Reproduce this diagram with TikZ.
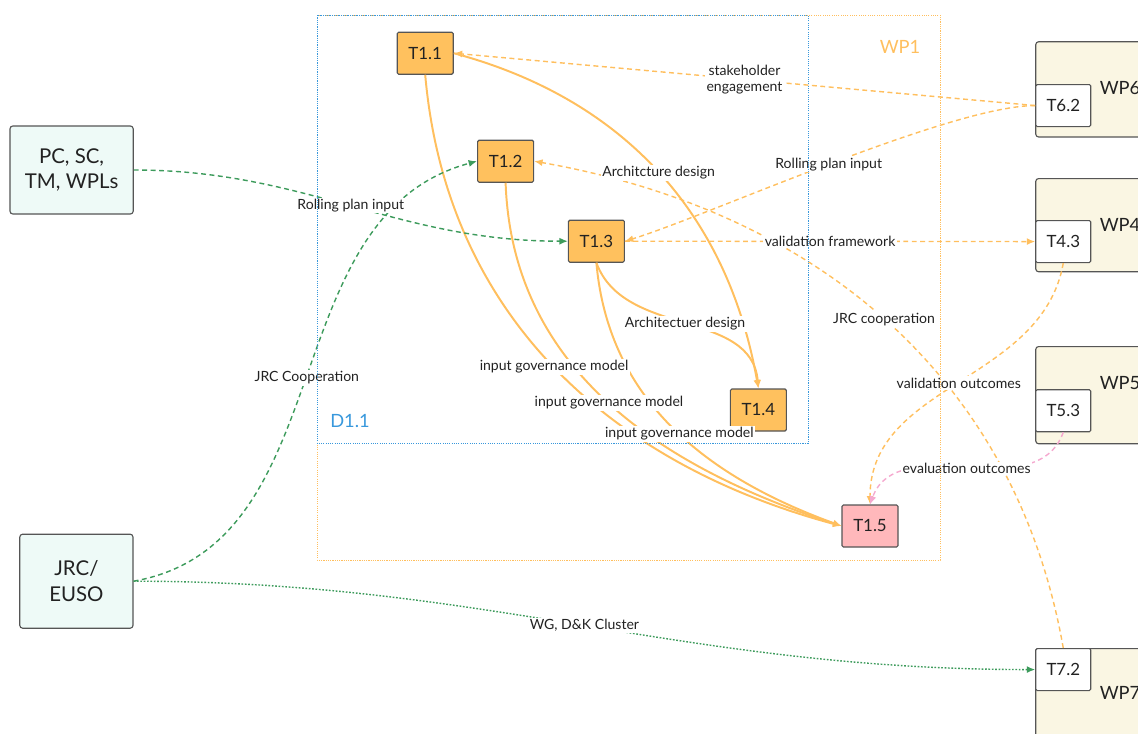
\documentclass[tikz,border=0pt]{standalone}
\usepackage{fontspec}
\setmainfont{Lato}
\usetikzlibrary{arrows.meta}
\definecolor{taskorange}{HTML}{FFC15E}
\definecolor{taskpink}{HTML}{FFB8BB}
\definecolor{lineorange}{HTML}{FFBF5E}
\definecolor{linepink}{HTML}{F5A9CF}
\definecolor{linegreen}{HTML}{3D9B5C}
\definecolor{frameblue}{HTML}{3898DC}
\definecolor{partymint}{HTML}{EEFAF7}
\definecolor{wpcream}{HTML}{FAF6E3}
\definecolor{boxgray}{HTML}{555555}
\definecolor{textgray}{HTML}{222222}
\begin{document}
\begin{tikzpicture}[>={Latex[length=6pt,width=5pt]},
	task/.style={draw=boxgray,line width=0.8pt,fill=taskorange,rounded corners=1pt,minimum width=1.4cm,minimum height=1.05cm,inner sep=0pt,text=textgray,font=\fontsize{12}{14}\selectfont},
	wptask/.style={task,fill=white,anchor=north west,minimum width=1.375cm},
	wpbox/.style={draw=boxgray,line width=0.8pt,fill=wpcream,rounded corners=2pt,anchor=north west,minimum width=3.5cm,inner sep=0pt},
	party/.style={draw=boxgray,line width=0.8pt,fill=partymint,rounded corners=2pt,align=center,text=textgray,font=\fontsize{14.5}{18}\selectfont},
	flow/.style={->,draw=lineorange,line width=1.4pt},
	link/.style={->,draw=lineorange,line width=1pt,dash pattern=on 3.5pt off 2.5pt},
	greenlink/.style={link,draw=linegreen},
	lbl/.style={fill=white,inner sep=1pt,text=textgray,font=\fontsize{10}{11.5}\selectfont},
	wplbl/.style={text=textgray,font=\fontsize{13}{15}\selectfont}]
	\useasboundingbox (0,0) rectangle (28.45,-18.33);
	\clip (0,0) rectangle (28.45,-18.33);
	%Tasks WP1
	\node[task] (t11) at (10.63,-1.33) {T1.1};
	\node[task] (t12) at (12.64,-4.03) {T1.2};
	\node[task] (t13) at (14.91,-6.03) {T1.3};
	\node[task] (t14) at (18.96,-10.25) {T1.4};
	\node[task,fill=taskpink] (t15) at (21.75,-13.15) {T1.5};
	%Partners
	\node[party,minimum width=3.08cm,minimum height=2.2cm] (pc) at (1.79,-4.25) {PC, SC,\\TM, WPLs};
	\node[party,minimum width=2.83cm,minimum height=2.35cm] (jrc) at (1.91,-14.53) {JRC/\\EUSO};
	%Other WPs
	\node[wpbox,minimum height=2.38cm] (wp6) at (25.88,-1.03) {};
	\node[wptask] (t62) at (25.88,-2.1) {T6.2};
	\node[wplbl] at (28.0,-2.2) {WP6};
	\node[wpbox,minimum height=2.33cm] (wp4) at (25.88,-4.45) {};
	\node[wptask] (t43) at (25.88,-5.5) {T4.3};
	\node[wplbl] at (28.0,-5.63) {WP4};
	\node[wpbox,minimum height=2.43cm] (wp5) at (25.88,-8.65) {};
	\node[wptask] (t53) at (25.88,-9.73) {T5.3};
	\node[wplbl] at (28.0,-9.58) {WP5};
	\node[wpbox,minimum height=3cm] (wp7) at (25.88,-16.2) {};
	\node[wptask] (t72) at (25.88,-16.2) {T7.2};
	\node[wplbl] at (28.0,-17.33) {WP7};
	%Input governance model
	\draw[flow] (t11.south) to[out=-85,in=165] coordinate[pos=.5] (g1) (t15.west);
	\draw[flow] (t12.south) to[out=-88,in=162] coordinate[pos=.5] (g2) (t15.west);
	\draw[flow] (t13.south) to[out=-85,in=160] coordinate[pos=.52] (g3) (t15.west);
	%Architecture design
	\draw[flow] (t11.east) to[out=-15,in=100] coordinate[pos=.5] (a1) (t14.north);
	\draw[flow] (t13.south) to[out=-70,in=95] coordinate[pos=.5] (a2) (t14.north);
	%Links to other WPs
	\draw[link] (t72.north) to[out=100,in=-10] coordinate[pos=.5] (jc) (t12.east);
	\draw[link] (t62.west) -- coordinate[pos=.5] (se) (t11.east);
	\draw[link] (t62.west) to[out=180,in=17,looseness=.5] coordinate[pos=.5] (rp1) (t13.east);
	\draw[link] (t13.east) -- coordinate[pos=.5] (vf) (t43.west);
	\draw[link] (t43.south) to[out=-100,in=90] coordinate[pos=.5] (vo) (t15.north);
	\draw[link,draw=linepink] (t53.south) to[out=-110,in=70] coordinate[pos=.5] (eo) (t15.north);
	%Links to partners
	\draw[greenlink] (pc.east) to[out=0,in=180] coordinate[pos=.5] (rp2) (t13.west);
	\draw[greenlink] (jrc.east) to[out=10,in=195] coordinate[pos=.5] (jc2) (t12.west);
	\draw[greenlink,dash pattern=on 1.2pt off 1.2pt] (jrc.east) to[out=0,in=180] coordinate[pos=.5] (wg) (t72.west);
	%Labels
	\node[lbl] at (g1) {input governance model};
	\node[lbl] at (g2) {input governance model};
	\node[lbl] at (g3) {input governance model};
	\node[lbl] at (a1) {Architcture design};
	\node[lbl] at (a2) {Architectuer design};
	\node[lbl] at (jc) {JRC cooperation};
	\node[lbl,align=center,font=\fontsize{10}{11}\selectfont] at (se) {stakeholder\\engagement};
	\node[lbl] at (rp1) {Rolling plan input};
	\node[lbl] at (vf) {validation framework};
	\node[lbl] at (vo) {validation outcomes};
	\node[lbl] at (eo) {evaluation outcomes};
	\node[lbl] at (rp2) {Rolling plan input};
	\node[lbl] at (jc2) {JRC Cooperation};
	\node[lbl] at (wg) {WG, D\&K Cluster};
	%Frames WP1, D1.1
	\draw[lineorange,line width=0.7pt,dash pattern=on 0.8pt off 0.8pt] (7.93,-0.38) rectangle (23.5,-14);
	\draw[frameblue,line width=0.7pt,dash pattern=on 0.8pt off 0.8pt] (7.93,-0.38) rectangle (20.2,-11.08);
	\node[text=lineorange,font=\fontsize{13}{15}\selectfont] (wp1) at (22.5,-1.18) {WP1};
	\node[text=frameblue,font=\fontsize{13}{15}\selectfont] (d11) at (8.75,-10.53) {D1.1};
\end{tikzpicture}
\end{document}
